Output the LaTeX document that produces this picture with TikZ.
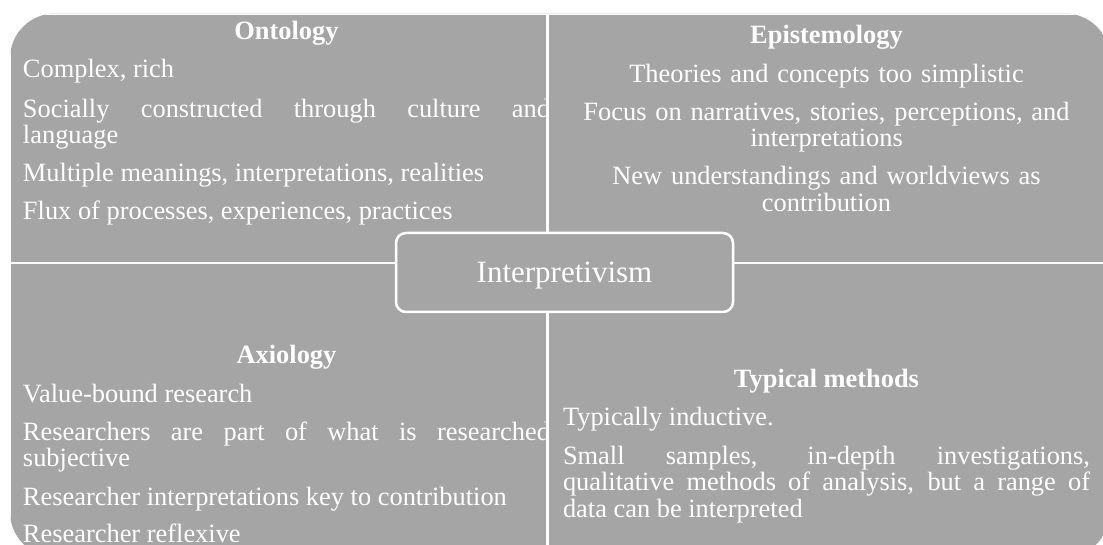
\documentclass[tikz,border=0pt]{standalone}
\usepackage{fontspec}
\setmainfont{Liberation Serif}
\definecolor{quadgray}{RGB}{165,165,165}
\hyphenpenalty=10000
\tolerance=10000
\newcommand\bodyfont{\fontsize{26.4}{26.5}\selectfont}
\begin{document}
\begin{tikzpicture}[x=1pt,y=-1pt,
  quad/.style={fill=quadgray, draw=white, line width=2.5pt},
  body/.style={text=white, inner sep=0pt, outer sep=0pt, font=\bodyfont, text width=527pt},
  itemL/.style={body, align=justify, anchor=base west},
  itemC/.style={body, align=center, anchor=base},
  head/.style={text=white, inner sep=0pt, outer sep=0pt, font=\bodyfont\bfseries, anchor=base},
  core/.style={fill=quadgray, draw=white, line width=2.5pt, rounded corners=10pt,
    minimum width=337pt, minimum height=79pt, inner sep=0pt, text=white,
    font=\fontsize{31}{31}\selectfont, text height=21pt, text depth=0pt}
]
\useasboundingbox (0,0) rectangle (1103,545);
\begin{scope}
  % outer outline of the matrix: large rounded outer corners (radius 45)
  \clip (10,58.5) .. controls (10,33.65) and (30.15,13.5) .. (55,13.5)
     -- (1065,13.5) .. controls (1089.85,13.5) and (1110,33.65) .. (1110,58.5)
     -- (1110,512) .. controls (1110,536.85) and (1089.85,557) .. (1065,557)
     -- (55,557) .. controls (30.15,557) and (10,536.85) .. (10,512) -- cycle;
  % top-left quadrant: Ontology
  \path[quad] (10,13.5) rectangle (547.7,263);
  \node[head] (ontH) at (286.5,40) {Ontology};
  \node[itemL] (ont1) at (23,78) {Complex, rich};
  \node[itemL] (ont2) at (23,117.5) {Socially constructed through culture and\linebreak language};
  \node[itemL] (ont3) at (23,182) {Multiple meanings, interpretations, realities};
  \node[itemL] (ont4) at (23,219.5) {Flux of processes, experiences, practices};
  % bottom-left quadrant: Axiology
  \path[quad] (10,263) rectangle (547.7,557);
  \node[head] (axH) at (286.5,363) {Axiology};
  \node[itemL] (ax1) at (23,402) {Value-bound research};
  \node[itemL] (ax2) at (23,440) {Researchers are part of what is researched\linebreak subjective};
  \node[itemL] (ax3) at (23,505) {Researcher interpretations key to contribution};
  \node[itemL] (ax4) at (23,542) {Researcher reflexive};
  % top-right quadrant: Epistemology
  \path[quad] (547.7,13.5) rectangle (1110,263);
  \node[head] (epH) at (826.5,44) {Epistemology};
  \node[itemC] (ep1) at (826.5,82.5) {Theories and concepts too simplistic};
  \node[itemC] (ep2) at (826.5,120.5) {Focus on narratives, stories, perceptions, and\\ interpretations};
  \node[itemC] (ep3) at (826.5,185) {New understandings and worldviews as\\ contribution};
  % bottom-right quadrant: Typical methods
  \path[quad] (547.7,263) rectangle (1110,557);
  \node[head] (tmH) at (826.5,387) {Typical methods};
  \node[itemL] (tm1) at (563,425) {Typically inductive.};
  \node[itemL] (tm2) at (563,464) {Small samples, in-depth investigations,\linebreak qualitative methods of analysis, but a range of\linebreak data can be interpreted};
\end{scope}
\node[core] (core) at (564.5,272.5) {Interpretivism};
\end{tikzpicture}
\end{document}
